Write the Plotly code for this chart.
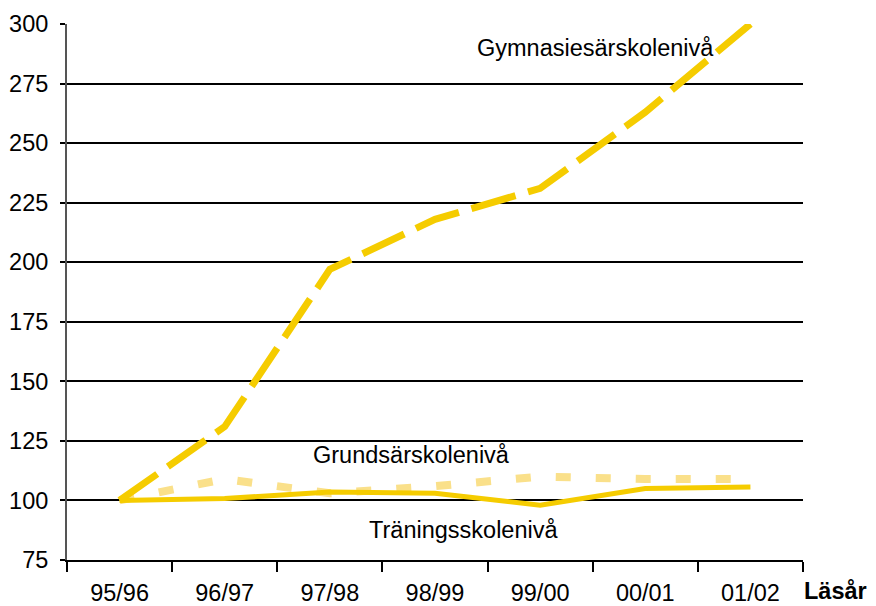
import plotly.graph_objects as go

# Läsår (school years) on the x axis
years = ["95/96", "96/97", "97/98", "98/99", "99/00", "00/01", "01/02"]

# index values, 95/96 = 100
gymnasie = [100, 131, 197, 218, 231, 263, 300]
grundsar = [100, 109, 103, 106, 110, 109, 109]
traning = [100, 100.8, 103.5, 103, 98, 105, 105.6]

y_ticks = [75, 100, 125, 150, 175, 200, 225, 250, 275, 300]

GOLD = "#F5CC00"
PALE = "#FAE08A"
FONT = "Liberation Sans, Arial, sans-serif"
FS = 23.5

fig = go.Figure()

fig.add_trace(
    go.Scatter(
        x=years,
        y=grundsar,
        mode="lines",
        name="Grundsärskolenivå",
        line=dict(color=PALE, width=8, dash="15px,25px"),
    )
)
fig.add_trace(
    go.Scatter(
        x=years,
        y=traning,
        mode="lines",
        name="Träningsskolenivå",
        line=dict(color=GOLD, width=5),
    )
)
fig.add_trace(
    go.Scatter(
        x=years,
        y=gymnasie,
        mode="lines",
        name="Gymnasiesärskolenivå",
        line=dict(color=GOLD, width=7, dash="46px,13px"),
    )
)

# the page body has an 8px margin, so the figure is sized to fit the window
fig.update_layout(
    width=868,
    height=598,
    margin=dict(l=59, r=73, t=16, b=46),
    paper_bgcolor="white",
    plot_bgcolor="white",
    showlegend=False,
    font=dict(family=FONT, size=FS, color="black"),
    xaxis=dict(
        type="category",
        categoryorder="array",
        categoryarray=years,
        range=[-0.5, 6.5],
        automargin=False,
        tickson="boundaries",
        ticks="outside",
        ticklen=10,
        tickwidth=1.5,
        tickcolor="black",
        showgrid=False,
        showline=True,
        linecolor="black",
        linewidth=2,
        ticklabelstandoff=11,
        tickfont=dict(size=FS),
    ),
    xaxis2=dict(
        type="category",
        categoryorder="array",
        categoryarray=years,
        range=[-0.5, 6.5],
        overlaying="x",
        matches="x",
        automargin=False,
        tickson="boundaries",
        ticks="inside",
        ticklen=7,
        tickwidth=1.5,
        tickcolor="black",
        showticklabels=False,
        showgrid=False,
        showline=False,
    ),
    yaxis=dict(
        range=[75, 300],
        tickvals=y_ticks,
        automargin=False,
        ticks="outside",
        ticklen=5,
        tickwidth=1.5,
        tickcolor="black",
        showgrid=True,
        gridcolor="black",
        gridwidth=1.8,
        zeroline=False,
        showline=True,
        linecolor="#555555",
        linewidth=2,
        ticklabelstandoff=7,
        tickfont=dict(size=FS),
    ),
    annotations=[
        dict(x=4.53, y=290, xref="x", yref="y", text="Gymnasiesärskolenivå",
             showarrow=False, font=dict(size=FS)),
        dict(x=2.78, y=119, xref="x", yref="y", text="Grundsärskolenivå",
             showarrow=False, font=dict(size=FS)),
        dict(x=3.27, y=87.4, xref="x", yref="y", text="Träningsskolenivå",
             showarrow=False, font=dict(size=FS)),
        dict(x=0.9986, y=-0.0858, xref="paper", yref="paper", text="<b>Läsår</b>",
             xanchor="left", yanchor="bottom", showarrow=False, font=dict(size=FS)),
    ],
)

fig.write_html("out.html")
